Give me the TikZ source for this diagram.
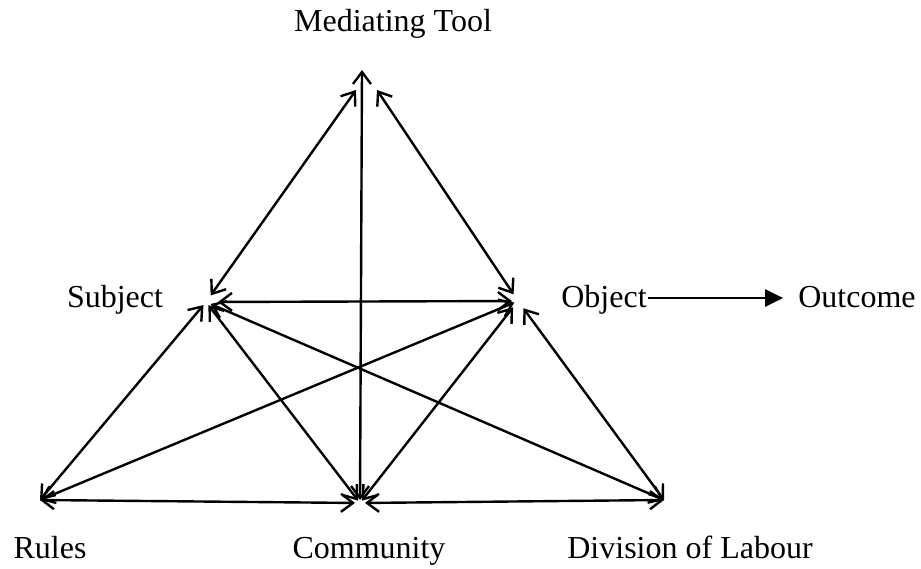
\documentclass[tikz,border=0pt]{standalone}
\usepackage{fontspec}
\setmainfont{Liberation Serif}
\usetikzlibrary{arrows.meta}
\begin{document}
\begin{tikzpicture}[x=1pt,y=-1pt,
  lbl/.style={font=\fontsize{32}{38}\selectfont, inner sep=1pt, anchor=base},
  link/.style={line width=2.4pt, {Straight Barb[length=12pt,width=18pt,line width=2.4pt]}-{Straight Barb[length=12pt,width=18pt,line width=2.4pt]}},
  outarrow/.style={line width=2.2pt, -{Triangle[length=18pt,width=17pt]}}]
\useasboundingbox (0,0) rectangle (921,568);
% vertices
\coordinate (T) at (362,70);
\coordinate (TL) at (356,90);
\coordinate (TR) at (377,90);
\coordinate (S) at (206,302);
\coordinate (O) at (518,301);
\coordinate (R) at (40,500);
\coordinate (C) at (360,503);
\coordinate (D) at (664,500);
% labels
\node[lbl] (mt) at (393,31) {Mediating Tool};
\node[lbl] (sub) at (115,307) {Subject};
\node[lbl] (obj) at (604,307) {Object};
\node[lbl] (out) at (857,307) {Outcome};
\node[lbl] (rul) at (50,558) {Rules};
\node[lbl] (com) at (369,558) {Community};
\node[lbl] (div) at (690,558) {Division of Labour};
% connectors
\draw[link, shorten >=8pt] (TL) -- (S);
\draw[link, shorten >=8pt] (TR) -- (O);
\draw[link, shorten >=3pt] (T) -- (C);
\draw[link, shorten <=12pt, shorten >=6pt] (S) -- (O);
\draw[link, shorten <=4pt] (S) -- (R);
\draw[link, shorten <=4pt, shorten >=3pt] (S) -- (C);
\draw[link, shorten <=5pt] (S) -- (D);
\draw[link, shorten <=4pt] (O) -- (R);
\draw[link, shorten <=8pt, shorten >=3pt] (O) -- (C);
\draw[link, shorten <=9pt] (O) -- (D);
\draw[link, shorten >=5pt] (R) -- (C);
\draw[link, shorten <=5pt] (C) -- (D);
\draw[outarrow, shorten >=14pt] ([yshift=9pt]obj.base east) -- ([yshift=9pt]out.base west);
\end{tikzpicture}
\end{document}
